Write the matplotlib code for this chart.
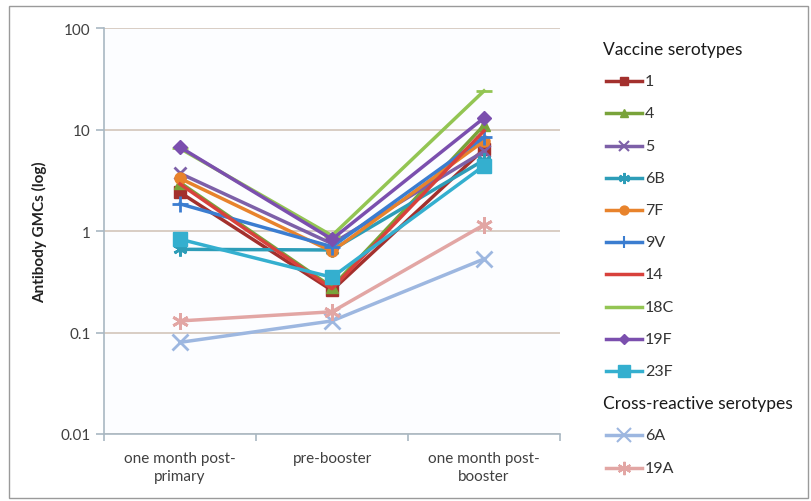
import numpy as np
import matplotlib
matplotlib.use("Agg")
import matplotlib.pyplot as plt
from matplotlib.lines import Line2D
from matplotlib.patches import Rectangle

plt.rcParams['font.family'] = ['Lato', 'DejaVu Sans']

timepoints = ["one month post-\nprimary", "pre-booster", "one month post-\nbooster"]

# GMC values per serotype at the three time points
s1 = [2.4, 0.26, 6.4]
s4 = [3.0, 0.28, 11.0]
s5 = [3.7, 0.75, 6.1]
s6B = [0.66, 0.65, 5.0]
s7F = [3.3, 0.63, 7.7]
s9V = [1.85, 0.7, 8.4]
s14 = [2.9, 0.27, 9.7]
s18C = [6.5, 0.9, 24.0]
s19F = [6.7, 0.83, 13.0]
s23F = [0.83, 0.35, 4.4]
s6A = [0.08, 0.13, 0.53]
s19A = [0.13, 0.16, 1.15]

vaccine = [
    ("1", s1, "#A3302D", "s", 8),
    ("4", s4, "#79A33A", "^", 8),
    ("5", s5, "#7D60A8", "x", 9),
    ("6B", s6B, "#2D9DB8", (6, 2, 0), 10),
    ("7F", s7F, "#E8832C", "o", 8),
    ("9V", s9V, "#3B7DD0", "+", 11),
    ("14", s14, "#D8413C", None, 0),
    ("18C", s18C, "#93C553", "_", 12),
    ("19F", s19F, "#7B4FAE", "D", 7),
    ("23F", s23F, "#34AFCF", "s", 10),
]
cross = [
    ("6A", s6A, "#9DB7E0", "x", 12),
    ("19A", s19A, "#E2A6A4", (6, 2, 0), 12),
]
thin = ("x", "+", "_", (6, 2, 0))

W, H = 812, 502
fig = plt.figure(figsize=(8.12, 5.02), dpi=100)
fig.patch.set_facecolor("white")
fig.add_artist(Rectangle((9 / W, 3 / H), 799 / W, 492 / H, transform=fig.transFigure,
                         fill=False, edgecolor="#9A9A9A", linewidth=1.0))

ax = fig.add_axes([104 / W, 1 - 435 / H, 456 / W, 406 / H])
ax.set_facecolor("#FCFDFF")
x = np.arange(len(timepoints))

for name, vals, col, mk, ms in vaccine + cross:
    ax.plot(x, vals, color=col, linewidth=2.5, marker=mk, markersize=ms,
            markeredgewidth=2 if mk in thin else 1, markeredgecolor=col)

ax.set_yscale("log")
ax.set_ylim(0.01, 100)
ax.set_xlim(-0.5, 2.5)
ax.set_yticks([0.01, 0.1, 1, 10, 100])
ax.set_yticklabels(["0.01", "0.1", "1", "10", "100"])
ax.yaxis.set_minor_locator(matplotlib.ticker.NullLocator())
ax.grid(axis="y", color="#D6CABF", linewidth=1.3)
ax.set_axisbelow(True)

ax.set_xticks(x)
ax.set_xticklabels(timepoints, fontsize=11, color="#404040", linespacing=1.4)
ax.tick_params(axis="x", length=0, pad=12)
ax.set_xticks([-0.5, 0.5, 1.5, 2.5], minor=True)
ax.tick_params(axis="x", which="minor", length=5, color="#A9B8C2", width=1.2)
ax.tick_params(axis="y", length=6, color="#A9B8C2", width=1.2, labelsize=11, labelcolor="#404040")

for side in ("top", "right"):
    ax.spines[side].set_visible(False)
for side in ("left", "bottom"):
    ax.spines[side].set_color("#A9B8C2")
    ax.spines[side].set_linewidth(1.2)

ax.set_ylabel("Antibody GMCs (log)", fontsize=11, fontweight="bold", color="#222222", labelpad=10)

# legend drawn by hand so the group headers line up with the handles
step = 32.2
ypos = 50


def header(text, y):
    fig.text(603 / W, 1 - y / H, text, fontsize=12.5, color="#1A1A1A", va="center", ha="left")


def entry(name, col, mk, ms, y):
    fy = 1 - y / H
    fig.add_artist(Line2D([606 / W, 642 / W], [fy, fy], transform=fig.transFigure,
                          color=col, linewidth=2.5))
    if mk is not None:
        fig.add_artist(Line2D([624 / W], [fy], transform=fig.transFigure, color=col,
                              marker=mk, markersize=ms * 0.8, markeredgecolor=col,
                              markeredgewidth=1.5 if mk in thin else 1, linestyle="none"))
    fig.text(645 / W, fy, name, fontsize=11.5, color="#333333", va="center", ha="left")


header("Vaccine serotypes", ypos)
for name, vals, col, mk, ms in vaccine:
    ypos += step
    entry(name, col, mk, ms, ypos)
ypos += step
header("Cross-reactive serotypes", ypos)
for name, vals, col, mk, ms in cross:
    ypos += step
    entry(name, col, mk, ms, ypos)

fig.savefig("out.png", dpi=100)
